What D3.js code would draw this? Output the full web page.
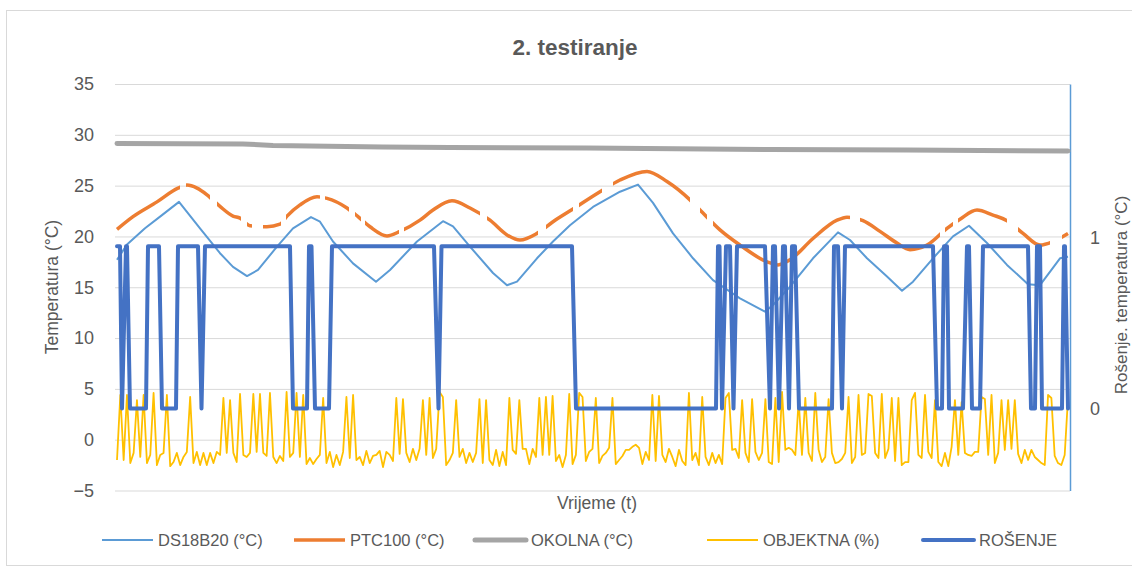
<!DOCTYPE html>
<html lang="hr">
<head>
<meta charset="utf-8">
<title>2. testiranje</title>
<script src="https://cdn.jsdelivr.net/npm/d3@7"></script>
<style>
	body { margin: 0; background: #fff; }
	text { font-family: "Liberation Sans", Arial, sans-serif; fill: #595959; }
</style>
</head>
<body>
<div id="chart"></div>
<script>
// ---- data (time in arbitrary units, 0 .. tEnd) ----
var tEnd = 951;

// DS18B20 (°C)
var dsT = [0, 10, 28, 45, 62, 83, 103, 116, 130, 141, 160, 176, 194, 203, 216, 236, 259, 273, 300, 326, 336, 353, 376, 390, 400, 420, 436, 453, 476, 503, 521, 536, 556, 576, 596, 623, 648, 656, 673, 696, 721, 733, 750, 770, 785, 796, 816, 836, 852, 870, 890, 911, 923, 943, 951];
var dsV = [17.7, 19.2, 20.8, 22.1, 23.4, 20.8, 18.35, 17.0, 16.1, 16.7, 19.0, 20.8, 21.9, 21.45, 19.5, 17.35, 15.55, 16.7, 19.5, 21.5, 21.0, 19.0, 16.4, 15.2, 15.55, 17.85, 19.5, 21.1, 22.9, 24.4, 25.1, 23.3, 20.3, 17.85, 15.7, 13.9, 12.6, 13.25, 15.05, 17.85, 20.4, 19.65, 17.85, 16.05, 14.65, 15.55, 17.85, 20.0, 21.05, 19.35, 17.2, 15.3, 15.2, 17.85, 18.0];

// PTC100 (°C)
var ptcT = [0, 16, 40, 61, 70, 80, 90, 103, 116, 123, 133, 150, 163, 170, 183, 200, 210, 230, 241, 253, 270, 283, 303, 316, 335, 353, 373, 390, 403, 420, 436, 456, 483, 503, 530, 550, 573, 586, 603, 623, 650, 661, 673, 696, 720, 730, 746, 763, 780, 793, 810, 830, 843, 860, 876, 890, 906, 923, 936, 951];
var ptcV = [20.7, 21.95, 23.4, 24.75, 25.05, 24.75, 24.1, 22.95, 22.0, 21.8, 21.05, 20.95, 21.2, 22.0, 23.1, 23.9, 23.75, 22.8, 21.95, 20.95, 20.05, 20.5, 21.6, 22.6, 23.5, 22.8, 21.6, 20.15, 19.65, 20.3, 21.45, 22.7, 24.4, 25.55, 26.4, 25.4, 23.6, 22.3, 20.65, 19.15, 17.5, 17.2, 17.7, 19.8, 21.6, 21.9, 21.55, 20.5, 19.35, 18.7, 19.15, 20.8, 21.7, 22.6, 22.1, 21.55, 20.3, 19.15, 19.5, 20.3];
// stretches with no PTC100 reading
var ptcGaps = [[63, 69], [93, 100], [124, 130], [135, 146], [164, 169], [203, 208], [232, 238], [244, 248], [282, 287], [363, 370], [421, 429], [456, 462], [485, 496], [573, 583], [590, 596], [733, 743], [823, 828], [836, 841], [890, 901], [933, 945]];

// OKOLNA (°C)
var okT = [0, 126, 156, 266, 333, 470, 653, 790, 951];
var okV = [29.15, 29.1, 28.95, 28.8, 28.75, 28.7, 28.55, 28.5, 28.4];

// OBJEKTNA (%) - one value per sample, evenly spaced in time
var objektna = [
	-2.0, 4.4, -2.0, 4.4, -2.3, -1.3, 3.9, -1.7, 4.4, -2.3,
	-1.5, 4.6, -2.5, -1.5, -1.3, 4.4, -2.6, -2.2, -1.3, -2.5,
	-1.7, -1.2, 4.2, -2.3, -1.2, -2.5, -1.3, -2.5, -1.3, -2.3,
	-1.2, -1.5, 4.1, -1.3, 3.9, -1.3, -2.2, 4.5, -1.5, -1.7,
	-1.3, 4.5, -1.2, 4.5, -1.3, -1.6, 4.6, -1.7, -2.3, -1.6,
	-2.1, 4.7, -1.7, -1.3, 4.6, -1.7, 4.4, -2.4, -1.8, -2.4,
	-1.9, -1.5, 4.1, -2.3, -1.2, -2.7, -1.5, -2.5, -1.2, 4.2,
	-1.8, 4.4, -2.0, -1.7, -2.5, -1.1, -2.3, -1.6, -1.5, -1.1,
	-2.7, -1.2, -1.5, -2.1, 4.1, -1.4, 4.0, -1.3, -2.2, -0.9,
	-2.0, -0.9, 3.9, -1.5, 4.1, -1.8, -0.9, 4.7, 4.2, -2.5,
	-2.0, -1.3, 3.9, -1.7, -0.9, -2.3, -1.3, -2.2, -1.3, 4.0,
	-2.3, 3.9, -2.0, -2.5, -1.0, -2.6, -1.2, -2.5, 4.1, -1.0,
	-1.4, 3.9, -0.9, -0.9, -2.4, -0.9, -1.7, 4.1, -1.5, 4.2,
	-1.5, 4.3, -2.1, -1.5, -2.7, -1.5, 4.5, -2.4, -1.5, 4.6,
	4.2, -2.1, -1.2,
	-0.9, 4.1, -2.3, -1.6, -1.3, -0.8, 4.1, -2.4, -2.0, -1.6,
	-1.0, -1.0, -0.7, -0.5, -0.8, -2.4, -1.2, -2.0, 4.4, -2.1,
	4.3, -1.5, -2.2, -0.9, -1.7, -2.6, -1.0, -2.1, -2.5, 4.6,
	-2.0, -1.3, -2.5, 4.2, -1.7, -2.5, -1.3, -2.3, -1.5, -2.4,
	4.1, 4.6, -1.0, -0.9, -1.8, 3.9, -1.3, -2.2, 4.0, -1.2,
	-2.0, -1.3, 4.0, -2.2, -2.4, 4.1, -2.2, 4.7, -1.0, -0.8,
	-1.0, -1.5, 3.9, -1.5, 4.1, -1.3, -2.1, 4.6, -1.0, -2.2,
	-1.7, 4.0,
	-1.3, -2.3, -2.2, -1.9, -1.3, 4.2, -2.3, -1.7, 4.4, -1.5,
	-1.3, 4.5, 4.3, -1.3, -1.8, 4.5, -1.8, -0.9, 4.1, -2.1,
	4.1, -2.5, -2.2, -2.2, 3.9, 4.6, -1.5, -1.8, 4.4, -1.2,
	-1.8, 3.9, -2.2, -2.6, -1.3, -2.6, -0.7, 3.9, -1.5, 3.7,
	-1.3, -1.5, -1.6, -1.2, -1.2, 4.2, 4.0, -1.5, 4.4, -2.3,
	-1.3, 3.9, -1.0, 3.9, -0.9, 3.9, -1.4, -2.3, -1.0, -2.0,
	-1.0, -1.7, -2.0, -2.3, -2.5, 4.4, 4.1, -1.6, -2.3, -2.5,
	-1.5, 4.1
];

// ROŠENJE (secondary axis) - switching points
var rosT = [0, 3, 5, 9, 10, 13, 29, 31, 42, 45, 59, 61, 81, 84.5, 88, 173, 176, 190, 192, 194.5, 198, 212, 215, 317, 321.5, 324.5, 455, 459, 599, 601, 602.5, 605, 609, 613, 616.5, 620, 648, 653, 656, 658, 662, 666, 668, 672, 675, 678, 682, 715, 717, 721, 725, 728, 816, 820, 825, 827, 830, 832, 846, 850, 852, 855, 863, 866, 911, 914, 918, 920, 923, 925, 945, 947, 948, 951];
var rosV = [0.95, 0.95, 0, 0.95, 0.95, 0, 0, 0.95, 0.95, 0, 0, 0.95, 0.95, 0, 0.95, 0.95, 0, 0, 0.95, 0.95, 0, 0, 0.95, 0.95, 0, 0.95, 0.95, 0, 0, 0.95, 0.95, 0, 0.95, 0.95, 0, 0.95, 0.95, 0, 0.95, 0.95, 0, 0.95, 0.95, 0, 0.95, 0.95, 0, 0, 0.95, 0.95, 0, 0.95, 0.95, 0, 0, 0.95, 0.95, 0, 0, 0.95, 0.95, 0, 0, 0.95, 0.95, 0, 0, 0.95, 0.95, 0, 0, 0.95, 0.95, 0];

var leftTicks = [-5, 0, 5, 10, 15, 20, 25, 30, 35];
var rightTicks = [0, 1];

var series = [
	{ name: "DS18B20 (°C)", color: "#5B9BD5", width: 2 },
	{ name: "PTC100 (°C)", color: "#ED7D31", width: 3.5 },
	{ name: "OKOLNA (°C)", color: "#A5A5A5", width: 5 },
	{ name: "OBJEKTNA (%)", color: "#FFC000", width: 1.8 },
	{ name: "ROŠENJE", color: "#4472C4", width: 4 }
];

// ---- setup ----
var w = 1132, h = 572;
var plotL = 115, plotR = 1070, plotT = 84, plotB = 490.5;

var svg = d3.select("#chart").append("svg")
	.attr("width", w)
	.attr("height", h);

// chart border
svg.append("rect")
	.attr("x", 6.5).attr("y", 10.5)
	.attr("width", 1140).attr("height", 555)
	.attr("fill", "none")
	.attr("stroke", "#d9d9d9");

var x = d3.scaleLinear().domain([0, tEnd]).range([plotL + 2, plotR - 2]);
var y = d3.scaleLinear().domain([-5, 35]).range([plotB, plotT]);
var y2 = d3.scaleLinear().domain([-0.48, 1.9]).range([plotB, plotT]);
var xObj = d3.scaleLinear().domain([0, objektna.length - 1]).range([0, tEnd]);

// gridlines
svg.append("g")
	.attr("transform", "translate(" + plotL + ",0)")
	.call(d3.axisLeft(y).tickValues(leftTicks).tickSize(-(plotR - plotL)).tickFormat(""))
	.call(function(g) {
		g.select(".domain").remove();
		g.selectAll("line").attr("stroke", "#d9d9d9").attr("stroke-width", 1);
	});

// left axis labels
svg.append("g")
	.attr("transform", "translate(" + plotL + ",0)")
	.call(d3.axisLeft(y).tickValues(leftTicks).tickSize(0).tickPadding(21))
	.call(function(g) {
		g.select(".domain").remove();
		g.selectAll("text").style("font-size", "18px").attr("fill", "#595959")
			.style("font-family", "'Liberation Sans', Arial, sans-serif");
	});

// right axis
svg.append("g")
	.attr("transform", "translate(" + plotR + ",0)")
	.call(d3.axisRight(y2).tickValues(rightTicks).tickSize(0).tickPadding(20).tickFormat(d3.format("d")))
	.call(function(g) {
		g.select(".domain").attr("stroke", "#5B9BD5").attr("stroke-width", 1.5);
		g.selectAll("text").style("font-size", "18px").attr("fill", "#595959")
			.style("font-family", "'Liberation Sans', Arial, sans-serif");
	});

// ---- lines ----
var line = d3.line()
	.x(function(d) { return x(d[0]); })
	.y(function(d) { return y(d[1]); });

var dsData = dsT.map(function(t, i) { return [t, dsV[i]]; });
var ptcData = ptcT.map(function(t, i) { return [t, ptcV[i]]; });
var okData = okT.map(function(t, i) { return [t, okV[i]]; });
var objData = objektna.map(function(v, i) { return [xObj(i), v]; });
var rosData = rosT.map(function(t, i) { return [t, rosV[i]]; });

// mask that hides the stretches with missing PTC100 readings
var mask = svg.append("defs").append("mask").attr("id", "ptcMask");
mask.append("rect").attr("x", 0).attr("y", 0).attr("width", w).attr("height", h).attr("fill", "white");
mask.selectAll("rect.gap")
	.data(ptcGaps)
	.enter()
	.append("rect")
	.attr("class", "gap")
	.attr("x", function(d) { return x(d[0]); })
	.attr("width", function(d) { return x(d[1]) - x(d[0]); })
	.attr("y", 0).attr("height", h)
	.attr("fill", "black");

svg.append("path")
	.datum(dsData)
	.attr("d", line)
	.attr("fill", "none")
	.attr("stroke", series[0].color)
	.attr("stroke-width", series[0].width)
	.attr("stroke-linejoin", "round");

svg.append("path")
	.datum(ptcData)
	.attr("d", line.curve(d3.curveMonotoneX))
	.attr("fill", "none")
	.attr("stroke", series[1].color)
	.attr("stroke-width", series[1].width)
	.attr("mask", "url(#ptcMask)");
line.curve(d3.curveLinear);

svg.append("path")
	.datum(okData)
	.attr("d", line)
	.attr("fill", "none")
	.attr("stroke", series[2].color)
	.attr("stroke-width", series[2].width)
	.attr("stroke-linecap", "round");

svg.append("path")
	.datum(objData)
	.attr("d", line)
	.attr("fill", "none")
	.attr("stroke", series[3].color)
	.attr("stroke-width", series[3].width)
	.attr("stroke-linejoin", "round");

var line2 = d3.line()
	.x(function(d) { return x(d[0]); })
	.y(function(d) { return y2(d[1]); });

svg.append("path")
	.datum(rosData)
	.attr("d", line2)
	.attr("fill", "none")
	.attr("stroke", series[4].color)
	.attr("stroke-width", series[4].width)
	.attr("stroke-linejoin", "round")
	.attr("stroke-linecap", "round");

// ---- titles ----
svg.append("text")
	.attr("x", 575).attr("y", 47)
	.attr("text-anchor", "middle")
	.attr("dominant-baseline", "central")
	.style("font-size", "22.5px")
	.style("font-weight", "bold")
	.text("2. testiranje");

svg.append("text")
	.attr("transform", "translate(52,287) rotate(-90)")
	.attr("text-anchor", "middle")
	.attr("dominant-baseline", "central")
	.style("font-size", "17.5px")
	.text("Temperatura (°C)");

svg.append("text")
	.attr("transform", "translate(1121,295) rotate(-90)")
	.attr("text-anchor", "middle")
	.attr("dominant-baseline", "central")
	.style("font-size", "17px")
	.text("Rošenje. temperatura (°C)");

svg.append("text")
	.attr("x", 597).attr("y", 503)
	.attr("text-anchor", "middle")
	.attr("dominant-baseline", "central")
	.style("font-size", "17.5px")
	.text("Vrijeme (t)");

// ---- legend ----
var legendX = [102, 294, 475, 707, 923];
var legend = svg.selectAll("g.legend")
	.data(series)
	.enter()
	.append("g")
	.attr("class", "legend")
	.attr("transform", function(d, i) { return "translate(" + legendX[i] + ",540)"; });

legend.append("line")
	.attr("x1", 0).attr("x2", 51)
	.attr("stroke", function(d) { return d.color; })
	.attr("stroke-width", function(d) { return d.width; })
	.attr("stroke-linecap", function(d, i) { return (i == 2 || i == 4) ? "round" : "butt"; });

legend.append("text")
	.attr("x", 56)
	.attr("dominant-baseline", "central")
	.style("font-size", "16.5px")
	.text(function(d) { return d.name; });
</script>
</body>
</html>
